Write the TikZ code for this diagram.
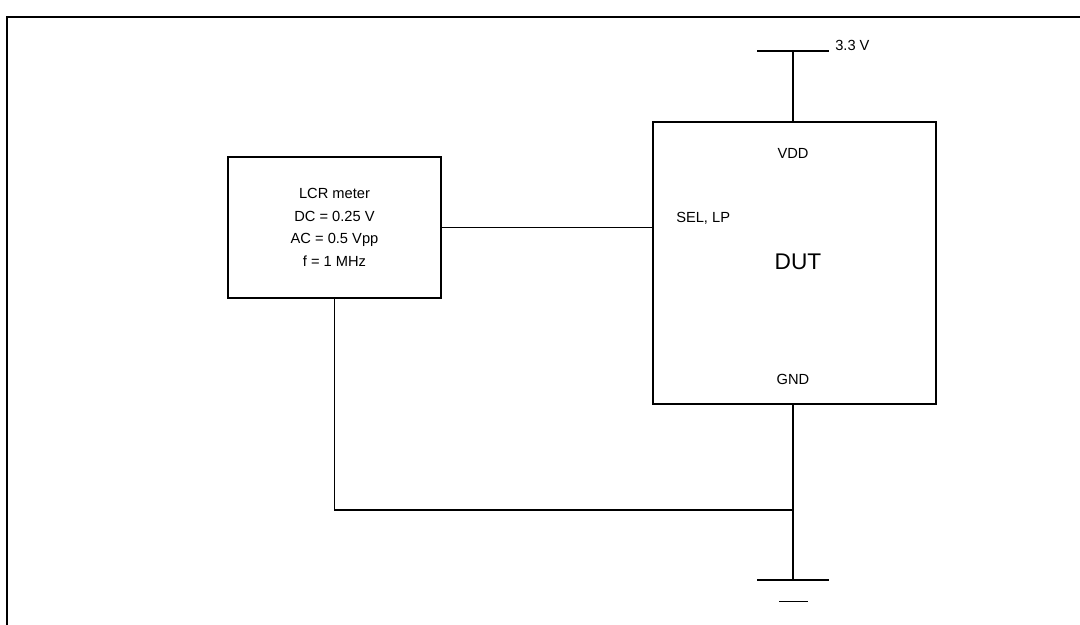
\documentclass[tikz,border=0pt]{standalone}
\usepackage{fontspec}
\setmainfont{Liberation Sans}
\usetikzlibrary{positioning}
\begin{document}
\begin{tikzpicture}[x=0.75pt, y=-0.75pt,
    wire/.style={line width=0.9pt},
    block/.style={draw, line width=1.2pt, inner sep=0pt},
    pin/.style={font=\fontsize{11}{13}\selectfont, inner sep=0pt}]
    \useasboundingbox (0,0) rectangle (1080,624);
    % frame
    \draw[line width=1.8pt] (7,630) -- (7,17) -- (1090,17);
    % blocks
    \node[block, minimum width=159.75pt, minimum height=105.75pt, align=center,
          font=\fontsize{11}{17}\selectfont] (lcr) at (334.5,227.5)
          {LCR meter\\DC = 0.25 V\\AC = 0.5 Vpp\\f = 1 MHz};
    \node[block, minimum width=212.5pt, minimum height=211.5pt] (dut) at (794.5,263) {};
    \node[font=\fontsize{17}{20}\selectfont, inner sep=0pt] (name) at (798,262) {DUT};
    \node[pin] (vddpin) at (793,153) {VDD};
    \node[pin, anchor=west] (selpin) at (676,218) {SEL, LP};
    \node[pin] (gndpin) at (793,379) {GND};
    % supply and ground
    \coordinate (vcc) at (793,51);
    \coordinate (join) at (793,510);
    \coordinate (earth) at (793,580);
    \draw[wire] (757,51) -- (vcc) -- (829,51);
    \node[pin, anchor=west] (supply) at (835,45) {3.3 V};
    \draw[wire] (vcc) -- (dut.north -| vcc);
    \draw[wire] (757,580) -- (earth) -- (829,580);
    \draw[wire] (779,601.5) -- (808,601.5);
    % connections
    \draw[wire] (lcr.east) -- (dut.west |- lcr.east);
    \draw[wire] (lcr.south) -- (lcr.south |- join) -- (join);
    \draw[wire] (dut.south -| earth) -- (earth);
\end{tikzpicture}
\end{document}
